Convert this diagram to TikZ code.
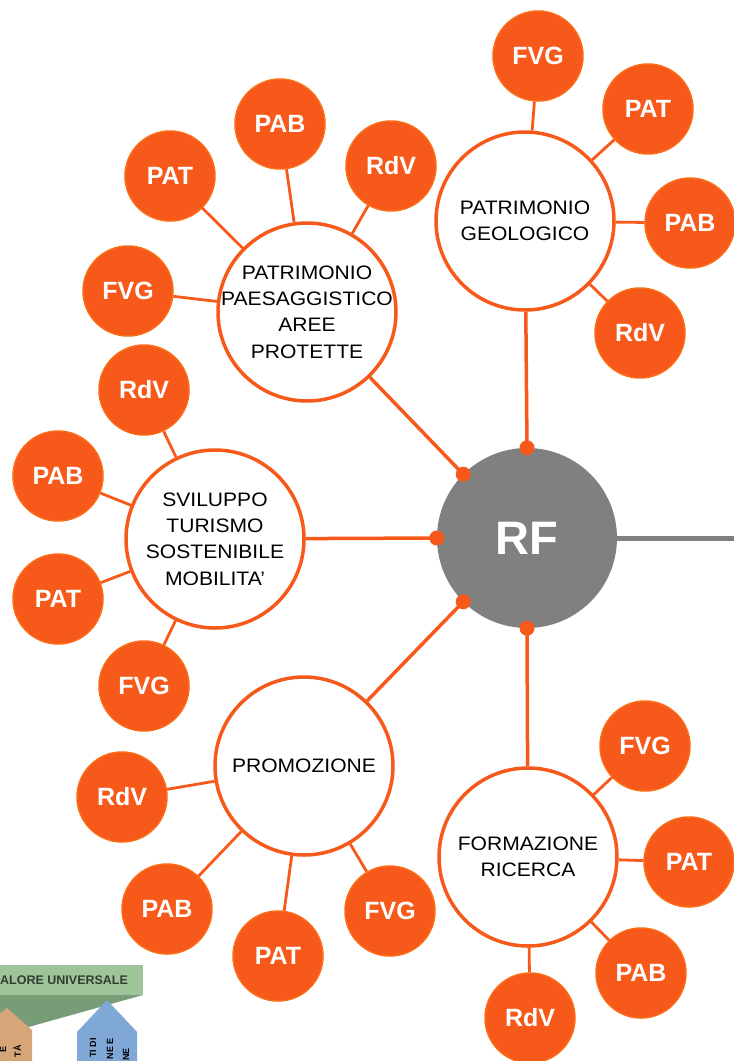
\documentclass[tikz,border=0pt]{standalone}
\usepackage{fontspec}
\setmainfont{Liberation Sans}
\newfontfamily\topicfont[FakeStretch=1.08]{Liberation Sans}
\definecolor{orng}{RGB}{246,89,26}
\definecolor{orngedge}{RGB}{252,108,22}
\definecolor{rfgray}{RGB}{128,128,128}
\definecolor{lgreen}{RGB}{158,196,154}
\definecolor{dgreen}{RGB}{120,156,118}
\definecolor{tan}{RGB}{214,166,120}
\definecolor{lblue}{RGB}{128,168,214}
\tikzset{
  topic/.style={circle, draw=orng, line width=3.5pt, fill=white, minimum size=178pt, inner sep=-60pt, align=center, font=\topicfont\fontsize{19.5}{26.3}\selectfont},
  sat/.style={circle, draw=orngedge, line width=1.5pt, fill=orng, minimum size=90pt, inner sep=0pt, text=white, font=\bfseries\fontsize{25}{30}\selectfont},
  hub/.style={circle, fill=rfgray, minimum size=180pt, inner sep=0pt, text=white, font=\bfseries\fontsize{47}{50}\selectfont},
  link/.style={draw=orng, line width=2.8pt},
  spoke/.style={draw=orng, line width=3.5pt},
  dot/.style={fill=orng},
  frag/.style={rotate=90, anchor=east, inner sep=0pt, font=\bfseries\fontsize{9}{10}\selectfont}
}
\begin{document}
\begin{tikzpicture}[x=1pt,y=-1pt]
\useasboundingbox (0,0) rectangle (734,1061);
\clip (0,0) rectangle (734,1061);
% partial diagram, bottom left
\fill[dgreen] (0,995) -- (143,995) -- (0,1035) -- cycle;
\fill[lgreen] (0,965) rectangle (143,995);
\node[anchor=west, inner sep=0pt, font=\bfseries\fontsize{12.5}{13}\selectfont, text={rgb,255:red,50;green,60;blue,50}] (valore) at (0,980) {ALORE UNIVERSALE};
\fill[tan] (-22,1061) -- (-22,1030) -- (7,1008) -- (32,1030) -- (32,1061) -- cycle;
\node[frag] (tanA) at (3,1046) {E};
\node[frag] (tanB) at (17,1045) {TÀ};
\fill[lblue] (77,1061) -- (77,1032) -- (107,1000) -- (137,1032) -- (137,1061) -- cycle;
\node[frag] (blA) at (93,1038) {TI DI};
\node[frag] (blB) at (110,1038) {NE E};
\node[frag] (blC) at (126,1048) {NE};

% hub
\node[hub] (RF) at (527,538) {RF};
\draw[draw=rfgray, line width=5pt] (RF.east) -- (734,538) coordinate (rfout);

% topics
\node[topic] (geo) at (525,221) {PATRIMONIO\\GEOLOGICO};
\node[topic] (paes) at (307,312) {PATRIMONIO\\PAESAGGISTICO\\AREE\\PROTETTE};
\node[topic] (svil) at (215,539) {SVILUPPO\\TURISMO\\SOSTENIBILE\\MOBILITA’};
\node[topic] (prom) at (304,766) {PROMOZIONE};
\node[topic] (form) at (528,857) {FORMAZIONE\\RICERCA};

% spokes with dots
\draw[spoke] (geo) -- (RF.90);
\draw[spoke] (paes) -- (RF.135);
\draw[spoke] (svil) -- (RF.180);
\draw[spoke] (prom) -- (RF.225);
\draw[spoke] (form) -- (RF.270);
\foreach \a in {90,135,180,225,270} { \fill[dot] (RF.\a) circle (7.5pt); }

% satellites
\foreach \n/\x/\y/\t/\p in {
  g1/538/56/FVG/geo, g2/648/109/PAT/geo, g3/690/223/PAB/geo, g4/640/333/RdV/geo,
  p1/280/124/PAB/paes, p2/391/166/RdV/paes, p3/170/176/PAT/paes, p4/128/291/FVG/paes,
  s1/144/390/RdV/svil, s2/58/476/PAB/svil, s3/58/599/PAT/svil, s4/144/686/FVG/svil,
  m1/122/797/RdV/prom, m2/167/909/PAB/prom, m3/278/956/PAT/prom, m4/390/911/FVG/prom,
  f1/645/746/FVG/form, f2/689/862/PAT/form, f3/641/973/PAB/form, f4/530/1018/RdV/form}
{
  \node[sat] (\n) at (\x,\y) {\t};
  \draw[link] (\p) -- (\n);
}
\end{tikzpicture}
\end{document}
